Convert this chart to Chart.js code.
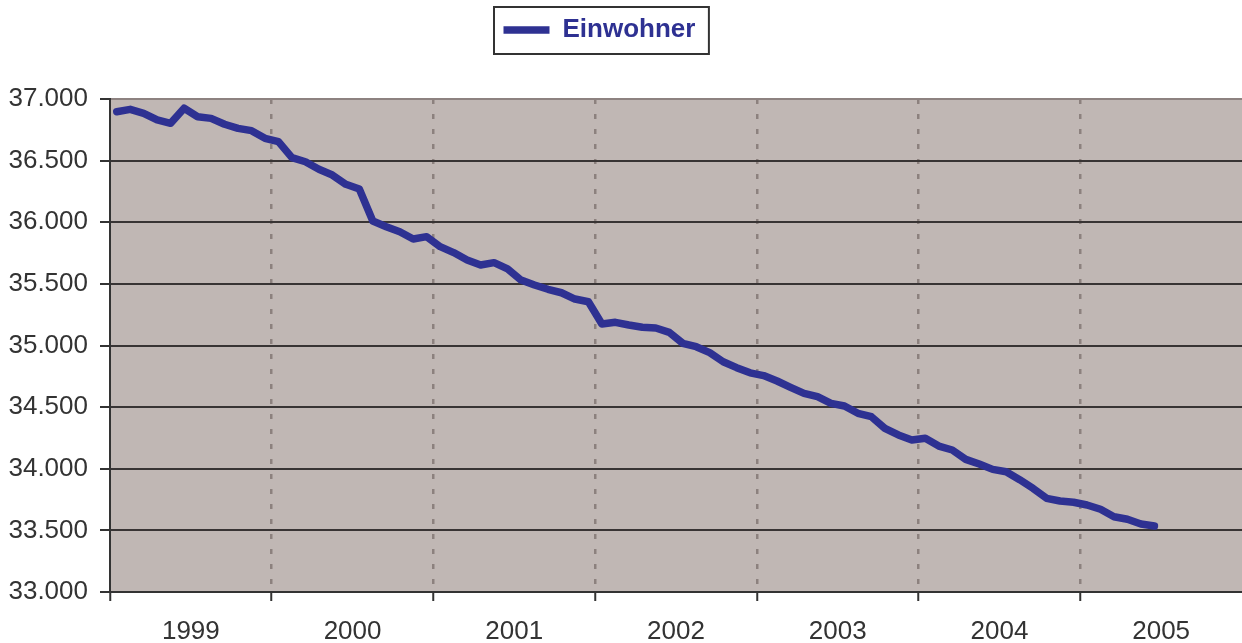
<!DOCTYPE html>
<html><head><meta charset="utf-8">
<script src="https://cdn.jsdelivr.net/npm/chart.js@4"></script>
<style>html,body{margin:0;padding:0;background:#fff}#wrap{width:1242px;height:643px;position:relative}</style>
</head><body><div id="wrap"><canvas id="c"></canvas></div>
<script>
const seriesName = 'Einwohner';
const years = ['1999', '2000', '2001', '2002', '2003', '2004', '2005'];
const months = ['01', '02', '03', '04', '05', '06', '07', '08', '09', '10', '11', '12'];
const e1999 = [36897, 36916, 36884, 36830, 36803, 36925, 36856, 36843, 36795, 36762, 36743, 36681];
const e2000 = [36654, 36524, 36491, 36430, 36383, 36308, 36270, 36010, 35964, 35923, 35864, 35883];
const e2001 = [35802, 35754, 35694, 35653, 35672, 35621, 35531, 35491, 35456, 35428, 35377, 35355];
const e2002 = [35174, 35188, 35166, 35148, 35142, 35107, 35018, 34990, 34942, 34868, 34820, 34778];
const e2003 = [34756, 34712, 34661, 34612, 34585, 34531, 34509, 34450, 34422, 34328, 34274, 34233];
const e2004 = [34247, 34184, 34152, 34076, 34038, 33995, 33976, 33911, 33840, 33760, 33738, 33728];
const e2005 = [33706, 33671, 33611, 33590, 33552, 33535];
const yMin = 33000, yMax = 37000, yStep = 500;

const monthLabels = years.flatMap(y => months.map(m => m + '.' + y));
const einwohner = [].concat(e1999, e2000, e2001, e2002, e2003, e2004, e2005);

const FONT = "'Liberation Sans', Arial, sans-serif";
Chart.defaults.font.family = FONT;

const LINE = '#2e3192';
const fmt = v => String(v).replace(/\B(?=(\d{3})+(?!\d))/g, '.');

const plotBg = {
  id: 'plotBg',
  beforeDraw(chart) {
    const {ctx, chartArea: a} = chart;
    ctx.save();
    ctx.fillStyle = '#ffffff';
    ctx.fillRect(0, 0, chart.width, chart.height);
    ctx.fillStyle = '#c0b7b4';
    ctx.fillRect(a.left, a.top, a.right - a.left, a.bottom - a.top);
    ctx.restore();
  }
};
const legendFrame = {
  id: 'legendFrame',
  afterLayout(chart) {
    const lg = chart.legend;
    if (!lg || !lg.lineWidths) return;
    const p = lg.options.labels.padding;
    const start = (lg.left + p + lg.right - lg.lineWidths[0]) / 2;
    const dx = 503.5 - start;
    lg.left += dx; lg.right += dx;
  },
  afterDraw(chart) {
    const hb = chart.legend && chart.legend.legendHitBoxes && chart.legend.legendHitBoxes[0];
    if (!hb) return;
    const ctx = chart.ctx;
    ctx.save();
    ctx.strokeStyle = '#333333';
    ctx.lineWidth = 2;
    ctx.strokeRect(hb.left - 9.5, hb.top - 10, hb.width + 23, hb.height + 21);
    ctx.restore();
  }
};

new Chart(document.getElementById('c'), {
  type: 'line',
  data: {
    labels: monthLabels,
    datasets: [{
      label: seriesName,
      data: einwohner,
      borderColor: LINE,
      backgroundColor: LINE,
      borderWidth: 7.5,
      pointRadius: 0,
      tension: 0,
      borderJoinStyle: 'round',
      borderCapStyle: 'round',
      xAxisID: 'x',
      yAxisID: 'y'
    }]
  },
  plugins: [plotBg, legendFrame],
  options: {
    responsive: true,
    maintainAspectRatio: false,
    animation: false,
    layout: { padding: 0 },
    plugins: {
      legend: {
        position: 'top',
        labels: {
          usePointStyle: true,
          pointStyle: 'line',
          pointStyleWidth: 46,
          padding: 17,
          color: LINE,
          font: { family: FONT, size: 26, weight: 'bold' }
        }
      },
      tooltip: { enabled: false }
    },
    scales: {
      spacer: {
        type: 'category', labels: [''], position: 'top',
        afterFit: s => { s.height = 46; },
        grid: { display: false, drawTicks: false, tickLength: 0 },
        border: { display: false },
        ticks: { display: false }
      },
      x: {
        type: 'category', position: 'bottom', offset: true, weight: 0,
        afterFit: s => { s.height = 9; },
        ticks: { display: false, autoSkip: false },
        grid: {
          offset: true,
          color: c => (c.index % 12 === 0 && c.index > 0) ? '#8c817e' : 'rgba(0,0,0,0)',
          lineWidth: 2.5,
          tickLength: 9,
          tickColor: c => (c.index % 12 === 0) ? '#333333' : 'rgba(0,0,0,0)',
          tickWidth: 2,
          tickBorderDash: []
        },
        border: { color: '#333333', width: 2, dash: [5, 10] }
      },
      years: {
        type: 'category', labels: years, offset: true, position: 'bottom', weight: 1,
        afterFit: s => { s.height = 42; },
        grid: { display: false, drawTicks: false, tickLength: 0 },
        border: { display: false },
        ticks: { color: '#333333', font: { family: FONT, size: 26 }, padding: 15, autoSkip: false, maxRotation: 0 }
      },
      y: {
        type: 'linear', min: yMin, max: yMax,
        afterFit: s => { s.width = 110; },
        ticks: { stepSize: yStep, padding: 12, color: '#333333', font: { family: FONT, size: 26 }, callback: v => fmt(v) },
        grid: {
          color: c => (c.tick && c.tick.value === yMax) ? '#8d8280' : '#383434',
          lineWidth: 2,
          tickLength: 10,
          tickColor: '#333333',
          tickWidth: 2
        },
        border: { color: '#333333', width: 2 }
      }
    }
  }
});
</script>
</body></html>
